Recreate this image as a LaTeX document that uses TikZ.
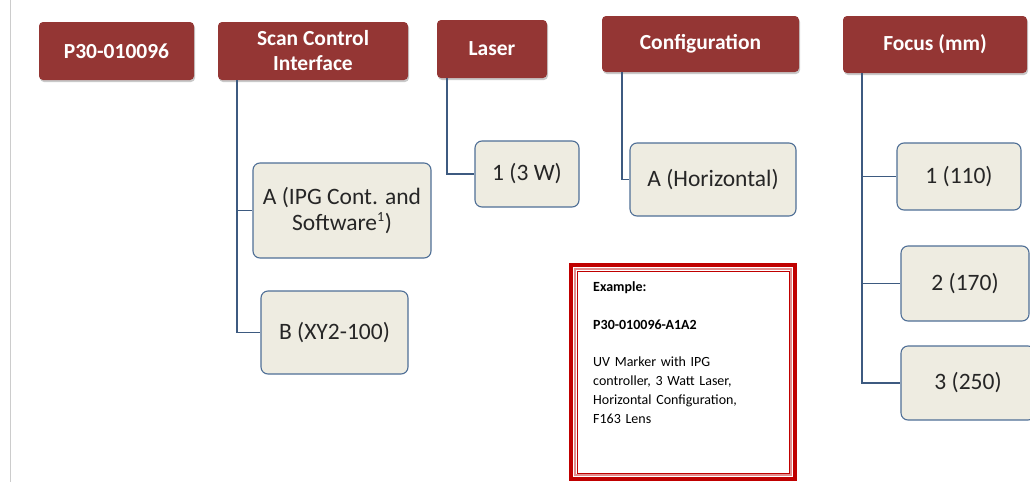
\documentclass[tikz,border=0pt]{standalone}
\usepackage{fontspec}
\setmainfont{Carlito}
\usetikzlibrary{shadows}
\definecolor{hdr}{HTML}{943634}
\definecolor{kid}{HTML}{EEECE1}
\definecolor{kidline}{HTML}{4F6F96}
\definecolor{conn}{HTML}{3D5A80}
\definecolor{exred}{HTML}{C00000}
\begin{document}
\begin{tikzpicture}[x=1pt,y=-1pt,
  hdrbox/.style={draw=none, fill=hdr, rounded corners=4pt, text=white,
    font=\fontsize{21.5}{25}\selectfont\bfseries, align=center, inner sep=0pt,
    drop shadow={shadow xshift=1pt, shadow yshift=-2pt, opacity=0.35, fill=black!60}},
  kidbox/.style={draw=kidline, line width=1.1pt, fill=kid, rounded corners=7pt,
    text=black!85, font=\fontsize{23.5}{26}\selectfont, align=center, inner sep=0pt},
  connline/.style={draw=conn, line width=1.7pt}]
\useasboundingbox (0,0) rectangle (1030,482);
\fill[white] (0,0) rectangle (1030,482);
\draw[black!20, line width=1pt] (10,0) -- (10,482);

% headers
\node[hdrbox, minimum width=155pt, minimum height=58pt] (h1) at (116.5,51) {P30-010096};
\node[hdrbox, minimum width=190pt, minimum height=58pt] (h2) at (313,51) {Scan Control\\Interface};
\node[hdrbox, minimum width=110pt, minimum height=58pt] (h3) at (492,49) {Laser};
\node[hdrbox, minimum width=197pt, minimum height=56pt] (h4) at (700.5,44) {Configuration};
\node[hdrbox, minimum width=184pt, minimum height=57pt] (h5) at (935,44.5) {Focus (mm)};

% children
\node[kidbox, minimum width=178pt, minimum height=95pt] (c1) at (342,210.5) {A (IPG Cont. and\\Software\textsuperscript{\fontsize{14}{14}\selectfont 1})};
\node[kidbox, minimum width=147pt, minimum height=83pt] (c2) at (334.5,332.5) {B (XY2-100)};
\node[kidbox, minimum width=104pt, minimum height=66pt] (c3) at (527,174) {1 (3 W)};
\node[kidbox, minimum width=166pt, minimum height=73pt] (c4) at (713,179.5) {A (Horizontal)};
\node[kidbox, minimum width=124pt, minimum height=67pt] (c5) at (959,176.5) {1 (110)};
\node[kidbox, minimum width=128pt, minimum height=75pt] (c6) at (965,283.5) {2 (170)};
\node[kidbox, minimum width=134pt, minimum height=74pt] (c7) at (968,383) {3 (250)};

% connectors
\draw[connline] ([xshift=19pt]h2.south west) |- (c1.west);
\draw[connline] ([xshift=19pt]h2.south west) |- (c2.west);
\draw[connline] ([xshift=10pt]h3.south west) |- (c3.west);
\draw[connline] ([xshift=20pt]h4.south west) |- (c4.west);
\draw[connline] ([xshift=19pt]h5.south west) |- (c5.west);
\draw[connline] ([xshift=19pt]h5.south west) |- (c6.west);
\draw[connline] ([xshift=19pt]h5.south west) |- (c7.west);

% example box
\draw[exred, line width=4pt] (571,265) rectangle (795,479);
\draw[exred!45, line width=2pt] (575,269) rectangle (791,475);
\draw[exred, line width=1pt] (577,271) rectangle (789,473);
\node[anchor=north west, inner sep=0pt, text width=200pt, align=left,
  font=\fontsize{14}{19}\selectfont, text=black] (ex) at (593,281)
  {\textbf{Example:}\\[19.5pt]
   \textbf{P30-010096-A1A2}\\[18pt]
   UV Marker with IPG\\controller, 3 Watt Laser,\\Horizontal Configuration,\\F163 Lens};
\end{tikzpicture}
\end{document}
